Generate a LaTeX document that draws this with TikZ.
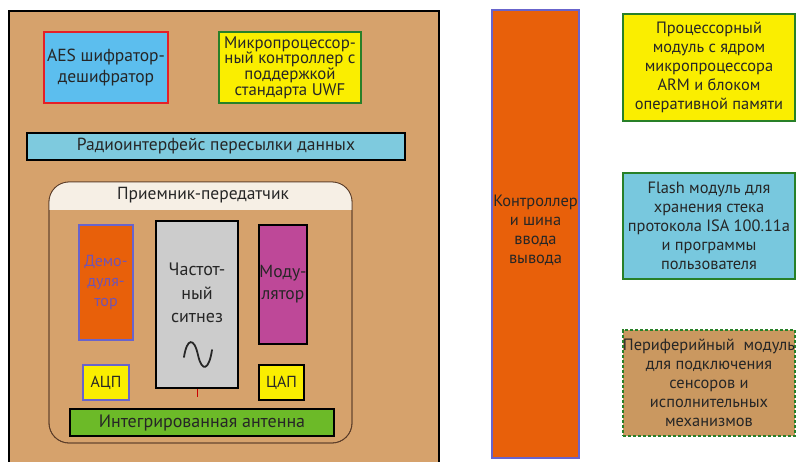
\documentclass[tikz,border=0pt]{standalone}
\usepackage{fontspec}
\setmainfont{PT Sans}
\definecolor{tanbg}{RGB}{214,162,108}
\definecolor{aesblue}{RGB}{92,190,238}
\definecolor{redb}{RGB}{228,32,40}
\definecolor{ylw}{RGB}{250,238,0}
\definecolor{grnb}{RGB}{40,128,40}
\definecolor{radioblue}{RGB}{126,202,222}
\definecolor{hdr}{RGB}{246,239,229}
\definecolor{orng}{RGB}{232,96,10}
\definecolor{blub}{RGB}{104,100,204}
\definecolor{gry}{RGB}{204,204,204}
\definecolor{mgnt}{RGB}{190,72,152}
\definecolor{antg}{RGB}{108,186,40}
\definecolor{flashblue}{RGB}{120,200,222}
\definecolor{pertan}{RGB}{202,152,96}
\definecolor{demtxt}{RGB}{112,84,180}
\definecolor{brd}{RGB}{90,60,40}
\newcommand\bx[7]{\node[#2, minimum width={#5-#3}, minimum height={#6-#4}] (#1) at ({(#3+#5)/2},{(#4+#6)/2}) {#7};}
\begin{document}
\begin{tikzpicture}[x=1pt,y=-1pt,
  box/.style={draw, line width=1.6pt, inner sep=0pt, align=center, text=black!85},
  bigtxt/.style={font=\fontsize{17.5}{20.5}\selectfont},
  midtxt/.style={font=\fontsize{16.4}{19}\selectfont},
  tighttxt/.style={font=\fontsize{16.8}{15.8}\selectfont},
  plain/.style={inner sep=0pt, align=center, text=black!85}]
\useasboundingbox (0,0) rectangle (796,461);
\clip (0,0) rectangle (796,461);
\fill[white] (0,0) rectangle (796,461);
% left main block
\bx{outer}{draw=black, line width=2.4pt, fill=tanbg, inner sep=0pt}{9}{11}{439}{480}{}
\bx{aes}{box, bigtxt, draw=redb, line width=2.4pt, fill=aesblue}{44}{32}{168}{103}{AES шифратор-\\дешифратор}
\bx{mcu}{box, tighttxt, draw=grnb, fill=ylw}{219}{32}{361}{103}{Микропроцессор-\\ный контроллер с\\поддержкой\\стандарта UWF}
\bx{radio}{box, bigtxt, fill=radioblue}{27}{133}{405}{160}{Радиоинтерфейс пересылки данных}
% transceiver
\bx{trx}{draw=brd, line width=0.8pt, fill=tanbg, rounded corners=20pt, inner sep=0pt}{49}{182}{352}{443}{}
\begin{scope}
  \clip (49,182) rectangle (352,209);
  \fill[hdr, rounded corners=20pt] (49,182) rectangle (352,443);
\end{scope}
\draw[brd, line width=0.8pt, rounded corners=20pt] (49,443) rectangle (352,182);
\node[plain, bigtxt] (trxlabel) at (203,195) {Приемник-передатчик};
\bx{demod}{box, font=\fontsize{16}{20}\selectfont, draw=blub, fill=orng, text=demtxt}{79}{225}{133}{340}{Демо-\\дуля-\\тор}
\bx{synth}{box, fill=gry}{156}{221}{238}{388}{}
\node[plain, font=\fontsize{18}{23.5}\selectfont] (synthtxt) at (197,293) {Частот-\\ный\\ситнез};
\draw[line width=1.8pt, line cap=round, black!85]
  (184,357) .. controls (187,338) and (194,337) .. (198,355)
  .. controls (202,373) and (209,370) .. (212,350);
\coordinate (synthtail) at (197,397);
\draw[red!80!black, line width=0.7pt] (synth.south) -- (synthtail);
\bx{mod}{box, font=\fontsize{17.5}{22}\selectfont, fill=mgnt}{259}{225}{307}{344}{Моду-\\лятор}
\bx{adc}{box, font=\fontsize{16}{19}\selectfont, draw=blub, fill=ylw}{83}{365}{129}{400}{АЦП}
\bx{dac}{box, font=\fontsize{16}{19}\selectfont, fill=ylw}{259}{365}{304}{400}{ЦАП}
\bx{ant}{box, font=\fontsize{18}{21}\selectfont, fill=antg}{70}{409}{334}{436}{Интегрированная антенна}
% right side
\bx{ctrl}{draw=blub, line width=1.6pt, fill=orng, inner sep=0pt}{492}{10}{579}{458}{}
\node[plain, midtxt] (ctrltxt) at (535.5,230) {Контроллер\\и шина\\ввода\\вывода};
\bx{cpu}{box, midtxt, draw=grnb, fill=ylw}{623}{14}{795}{121}{Процессорный\\модуль с ядром\\микропроцессора\\ARM и блоком\\оперативной памяти}
\bx{flash}{box, midtxt, draw=grnb, fill=flashblue}{623}{173}{795}{279}{Flash модуль для\\хранения стека\\протокола ISA 100.11a\\и программы\\пользователя}
\bx{periph}{box, midtxt, draw=grnb, fill=pertan, dashed, dash pattern=on 3pt off 2pt}{623}{330}{795}{436}{Периферийный~ модуль\\для подключения\\сенсоров и\\исполнительных\\механизмов}
\end{tikzpicture}
\end{document}
